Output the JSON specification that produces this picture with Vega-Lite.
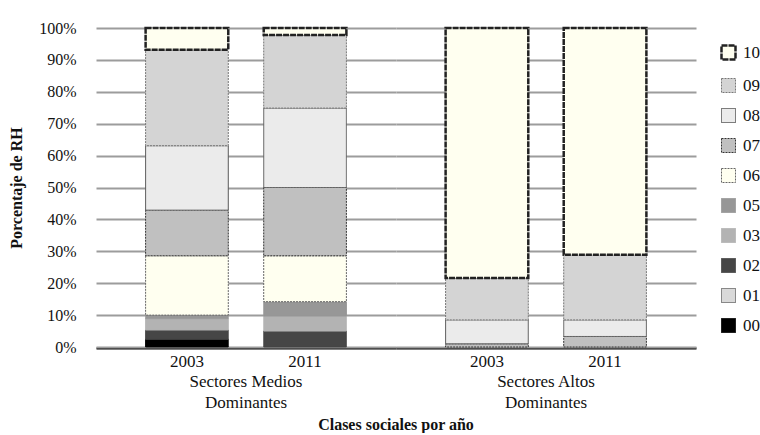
{
  "$schema": "https://vega.github.io/schema/vega-lite/v6.json",
  "padding": {"left": 8, "top": 20, "right": 0, "bottom": 0},
  "background": "#ffffff",
  "data": {"values": [
    {"grupo": "Sectores Medios Dominantes", "anio": "2003", "serie": "00", "valor": 2.4},
    {"grupo": "Sectores Medios Dominantes", "anio": "2003", "serie": "02", "valor": 2.9},
    {"grupo": "Sectores Medios Dominantes", "anio": "2003", "serie": "03", "valor": 3.6},
    {"grupo": "Sectores Medios Dominantes", "anio": "2003", "serie": "05", "valor": 1.1},
    {"grupo": "Sectores Medios Dominantes", "anio": "2003", "serie": "06", "valor": 18.6},
    {"grupo": "Sectores Medios Dominantes", "anio": "2003", "serie": "07", "valor": 14.3},
    {"grupo": "Sectores Medios Dominantes", "anio": "2003", "serie": "08", "valor": 20.2},
    {"grupo": "Sectores Medios Dominantes", "anio": "2003", "serie": "09", "valor": 30.1},
    {"grupo": "Sectores Medios Dominantes", "anio": "2003", "serie": "10", "valor": 6.8},
    {"grupo": "Sectores Medios Dominantes", "anio": "2011", "serie": "02", "valor": 5.0},
    {"grupo": "Sectores Medios Dominantes", "anio": "2011", "serie": "03", "valor": 4.7},
    {"grupo": "Sectores Medios Dominantes", "anio": "2011", "serie": "05", "valor": 4.5},
    {"grupo": "Sectores Medios Dominantes", "anio": "2011", "serie": "06", "valor": 14.4},
    {"grupo": "Sectores Medios Dominantes", "anio": "2011", "serie": "07", "valor": 21.4},
    {"grupo": "Sectores Medios Dominantes", "anio": "2011", "serie": "08", "valor": 24.9},
    {"grupo": "Sectores Medios Dominantes", "anio": "2011", "serie": "09", "valor": 22.9},
    {"grupo": "Sectores Medios Dominantes", "anio": "2011", "serie": "10", "valor": 2.2},
    {"grupo": "Sectores Altos Dominantes", "anio": "2003", "serie": "07", "valor": 1.0},
    {"grupo": "Sectores Altos Dominantes", "anio": "2003", "serie": "08", "valor": 7.5},
    {"grupo": "Sectores Altos Dominantes", "anio": "2003", "serie": "09", "valor": 13.1},
    {"grupo": "Sectores Altos Dominantes", "anio": "2003", "serie": "10", "valor": 78.4},
    {"grupo": "Sectores Altos Dominantes", "anio": "2011", "serie": "07", "valor": 3.3},
    {"grupo": "Sectores Altos Dominantes", "anio": "2011", "serie": "08", "valor": 5.2},
    {"grupo": "Sectores Altos Dominantes", "anio": "2011", "serie": "09", "valor": 20.4},
    {"grupo": "Sectores Altos Dominantes", "anio": "2011", "serie": "10", "valor": 71.1}
  ]},
  "spacing": 0,
  "facet": {
    "column": {
      "field": "grupo",
      "type": "nominal",
      "sort": ["Sectores Medios Dominantes", "Sectores Altos Dominantes"],
      "title": "Clases sociales por año",
      "header": {
        "labelOrient": "bottom",
        "titleOrient": "bottom",
        "labelExpr": "datum.value == 'Sectores Medios Dominantes' ? ['Sectores Medios', 'Dominantes'] : ['Sectores Altos', 'Dominantes']",
        "labelFont": "Liberation Serif",
        "labelFontSize": 17,
        "labelColor": "#111111",
        "labelPadding": 5,
        "labelLineHeight": 21,
        "titleFont": "Liberation Serif",
        "titleFontSize": 16,
        "titleFontWeight": "bold",
        "titleColor": "#111111",
        "titlePadding": -4
      }
    }
  },
  "spec": {
    "width": 300,
    "height": 319,
    "mark": {
      "type": "bar",
      "strokeWidth": {"expr": "datum.serie == '10' ? 2.5 : 1"}
    },
    "encoding": {
      "x": {
        "field": "anio",
        "type": "ordinal",
        "scale": {"paddingInner": 0.3, "paddingOuter": 0.42},
        "axis": {
          "title": null,
          "labelAngle": 0,
          "ticks": false,
          "tickSize": 0,
          "domain": true,
          "domainColor": "#000000",
          "domainWidth": 2,
          "labelPadding": 5,
          "labelFont": "Liberation Serif",
          "labelFontSize": 17,
          "labelColor": "#111111"
        }
      },
      "y": {
        "field": "valor",
        "type": "quantitative",
        "stack": "normalize",
        "scale": {"domain": [0, 1]},
        "axis": {
          "title": "Porcentaje de RH",
          "titleFont": "Liberation Serif",
          "titleFontSize": 16,
          "titleFontWeight": "bold",
          "titleColor": "#111111",
          "titlePadding": 14,
          "format": ".0%",
          "values": [0, 0.1, 0.2, 0.3, 0.4, 0.5, 0.6, 0.7, 0.8, 0.9, 1],
          "labelOverlap": false,
          "domain": false,
          "ticks": false,
          "tickSize": 0,
          "labelPadding": 20,
          "labelFont": "Liberation Serif",
          "labelFontSize": 16,
          "labelColor": "#111111",
          "grid": true,
          "gridColor": "#9c9c9c",
          "gridWidth": 2
        }
      },
      "color": {
        "field": "serie",
        "type": "nominal",
        "scale": {
          "domain": ["10", "09", "08", "07", "06", "05", "03", "02", "01", "00"],
          "range": ["#fffff0", "#d4d4d4", "#ebebeb", "#c0c0c0", "#fffff0", "#979797", "#b3b3b3", "#464646", "#d9d9d9", "#000000"]
        },
        "legend": {
          "title": null,
          "orient": "none",
          "legendX": 624,
          "legendY": 16,
          "symbolType": "square",
          "symbolSize": 196,
          "symbolStrokeWidth": {"expr": "datum.value == '10' ? 2.5 : 1"},
          "labelFont": "Liberation Serif",
          "labelFontSize": 17,
          "labelColor": "#111111",
          "rowPadding": 11,
          "padding": 0,
          "labelOffset": 6
        }
      },
      "stroke": {
        "field": "serie",
        "type": "nominal",
        "scale": {
          "domain": ["10", "09", "08", "07", "06", "05", "03", "02", "01", "00"],
          "range": ["#222222", "#777777", "#555555", "#333333", "#666666", "#979797", "#b3b3b3", "#464646", "#666666", "#000000"]
        }
      },
      "strokeDash": {
        "field": "serie",
        "type": "nominal",
        "scale": {
          "domain": ["10", "09", "08", "07", "06", "05", "03", "02", "01", "00"],
          "range": [[6, 1], [2, 1], [1, 0], [2, 1], [2, 1], [1, 0], [1, 0], [1, 0], [1, 0], [1, 0]]
        }
      },
      "order": {"field": "serie", "sort": "ascending"}
    }
  },
  "config": {
    "view": {"stroke": null},
    "font": "Liberation Serif"
  }
}
